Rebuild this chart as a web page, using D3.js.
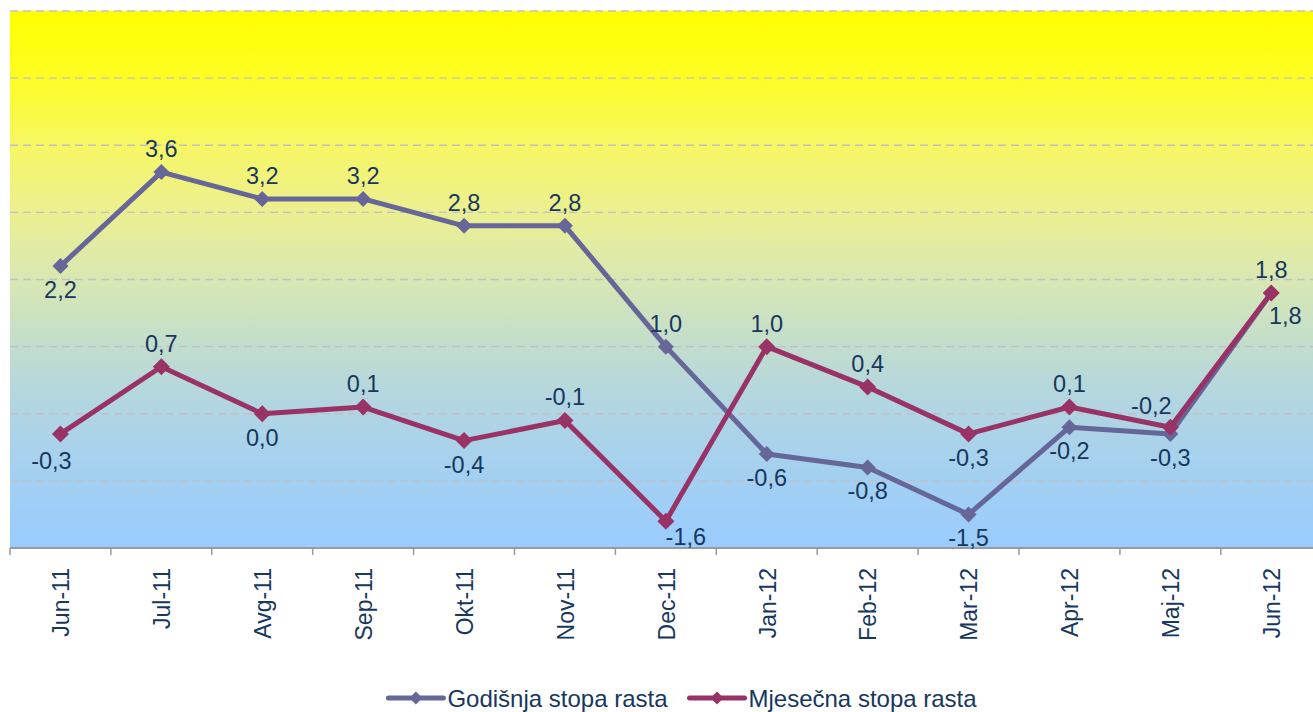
<!DOCTYPE html>
<html><head><meta charset="utf-8">
<script src="https://cdn.jsdelivr.net/npm/d3@7"></script>
<style>
body{margin:0;background:#fff;}
svg{display:block;font-family:"Liberation Sans",Arial,sans-serif;}
</style>
</head><body>
<svg id="chart" width="1313" height="712"></svg>
<script>
// ---- data ----
const categories = ["Jun-11","Jul-11","Avg-11","Sep-11","Okt-11","Nov-11","Dec-11","Jan-12","Feb-12","Mar-12","Apr-12","Maj-12","Jun-12"];
const godisnja = [2.2, 3.6, 3.2, 3.2, 2.8, 2.8, 1.0, -0.6, -0.8, -1.5, -0.2, -0.3, 1.8];
const mjesecna = [-0.3, 0.7, 0.0, 0.1, -0.4, -0.1, -1.6, 1.0, 0.4, -0.3, 0.1, -0.2, 1.8];
const yTicks = [-2, -1, 0, 1, 2, 3, 4, 5, 6];
const seriesNames = ["Godišnja stopa rasta", "Mjesečna stopa rasta"];
const godisnjaLabelPos = ["below","above","above","above","above","above","above","below","below","below","below","below","right"];
const mjesecnaLabelPos = ["belowLeft","above","below","above","below","above","belowRight","above","above","below","above","aboveLeft","above"];

// ---- layout / style ----
const plot = {left: 10, right: 1313, top: 11, bottom: 548};
const step = 100.9;
const textColor = "#17375E";
const colors = ["#666699", "#993366"];
const labelOffsets = {
  above: {dx: 0, dy: -15},
  below: {dx: 0, dy: 32},
  belowLeft: {dx: -9, dy: 35},
  belowRight: {dx: 20, dy: 24},
  aboveLeft: {dx: -19, dy: -13},
  right: {dx: 14, dy: 31}
};
const fmt = v => d3.format(".1f")(v).replace(".", ",").replace("−", "-");

const svg = d3.select("#chart");

const x = d3.scaleBand().domain(categories)
  .range([plot.left, plot.left + step * categories.length]).padding(0);
const y = d3.scaleLinear().domain([d3.min(yTicks), d3.max(yTicks)]).range([plot.bottom, plot.top]);
const cx = d => x(d) + x.bandwidth() / 2;

// gradient
const defs = svg.append("defs");
const grad = defs.append("linearGradient").attr("id", "bg").attr("x1", 0).attr("y1", 0).attr("x2", 0).attr("y2", 1);
[[0, "#FFFF00"], [0.12, "#FDFD22"], [0.25, "#F6F664"], [0.36, "#EDF08C"], [0.48, "#DCE9AE"],
 [0.6, "#C6DFC8"], [0.72, "#B3D6E0"], [0.86, "#A4D0F0"], [1, "#99CCFF"]]
  .forEach(([o, c]) => grad.append("stop").attr("offset", o).attr("stop-color", c));

svg.append("rect")
  .attr("x", plot.left).attr("y", y(d3.max(yTicks)))
  .attr("width", plot.right - plot.left).attr("height", y(d3.min(yTicks)) - y(d3.max(yTicks)))
  .attr("fill", "url(#bg)");

// gridlines
svg.append("g").selectAll("line").data(yTicks.filter(t => t > d3.min(yTicks))).join("line")
  .attr("x1", plot.left).attr("x2", plot.right)
  .attr("y1", d => y(d)).attr("y2", d => y(d))
  .attr("stroke", "#C2C0C4").attr("stroke-width", 1.3).attr("stroke-dasharray", "8,5");

// x axis
const xAxis = svg.append("g").attr("transform", `translate(0,${plot.bottom})`)
  .call(d3.axisBottom(x).tickSize(0).tickPadding(0));
xAxis.select(".domain").remove();
xAxis.selectAll("text")
  .attr("transform", "rotate(-90)")
  .attr("x", -20).attr("y", 0).attr("dy", "0.38em")
  .attr("text-anchor", "end")
  .attr("fill", textColor)
  .style("font-size", "23px")
  .style("font-family", "'Liberation Sans', Arial, sans-serif");

svg.append("line").attr("x1", plot.left).attr("x2", plot.right)
  .attr("y1", plot.bottom).attr("y2", plot.bottom)
  .attr("stroke", "#9a9a9a").attr("stroke-width", 2);
const bounds = d3.range(categories.length + 1).map(i => x.range()[0] + i * x.step());
svg.append("g").selectAll("line").data(bounds).join("line")
  .attr("x1", d => d).attr("x2", d => d)
  .attr("y1", plot.bottom).attr("y2", plot.bottom + 7)
  .attr("stroke", "#9a9a9a").attr("stroke-width", 1.5);

// series
const diamond = r => `M0,${-r}L${r},0L0,${r}L${-r},0Z`;
const series = [
  {name: seriesNames[0], values: godisnja, color: colors[0], pos: godisnjaLabelPos, r: 8},
  {name: seriesNames[1], values: mjesecna, color: colors[1], pos: mjesecnaLabelPos, r: 8.5}
];
const line = d3.line().x((d, i) => cx(categories[i])).y(d => y(d));

series.forEach(s => {
  const g = svg.append("g");
  g.append("path").datum(s.values).attr("d", line)
    .attr("fill", "none").attr("stroke", s.color).attr("stroke-width", 5)
    .attr("stroke-linejoin", "round");
  g.selectAll("path.m").data(s.values).join("path").attr("class", "m")
    .attr("d", diamond(s.r))
    .attr("transform", (d, i) => `translate(${cx(categories[i])},${y(d)})`)
    .attr("fill", s.color);
});

// labels
series.forEach(s => {
  svg.append("g").selectAll("text").data(s.values).join("text")
    .attr("x", (d, i) => cx(categories[i]) + labelOffsets[s.pos[i]].dx)
    .attr("y", (d, i) => y(d) + labelOffsets[s.pos[i]].dy)
    .attr("text-anchor", "middle")
    .attr("fill", textColor)
    .style("font-size", "23.5px")
    .text(d => fmt(d));
});

// legend
const leg = svg.append("g");
const symW = 55, symGap = 4, itemGap = 22, legY = 698;
const items = series.map(s => {
  const it = leg.append("g");
  it.append("line").attr("x1", 0).attr("x2", symW).attr("y1", 0).attr("y2", 0)
    .attr("stroke", s.color).attr("stroke-width", 5).attr("stroke-linecap", "round");
  it.append("path").attr("d", diamond(6.5)).attr("transform", `translate(${symW / 2},0)`).attr("fill", s.color);
  const t = it.append("text").attr("x", symW + symGap).attr("y", 0).attr("dy", "0.36em")
    .attr("fill", textColor).style("font-size", "24px").text(s.name);
  return {g: it, w: symW + symGap + t.node().getComputedTextLength()};
});
const total = d3.sum(items, d => d.w) + itemGap * (items.length - 1);
let lx = 682.5 - total / 2;
items.forEach(it => { it.g.attr("transform", `translate(${lx},${legY})`); lx += it.w + itemGap; });
</script>
</body></html>
